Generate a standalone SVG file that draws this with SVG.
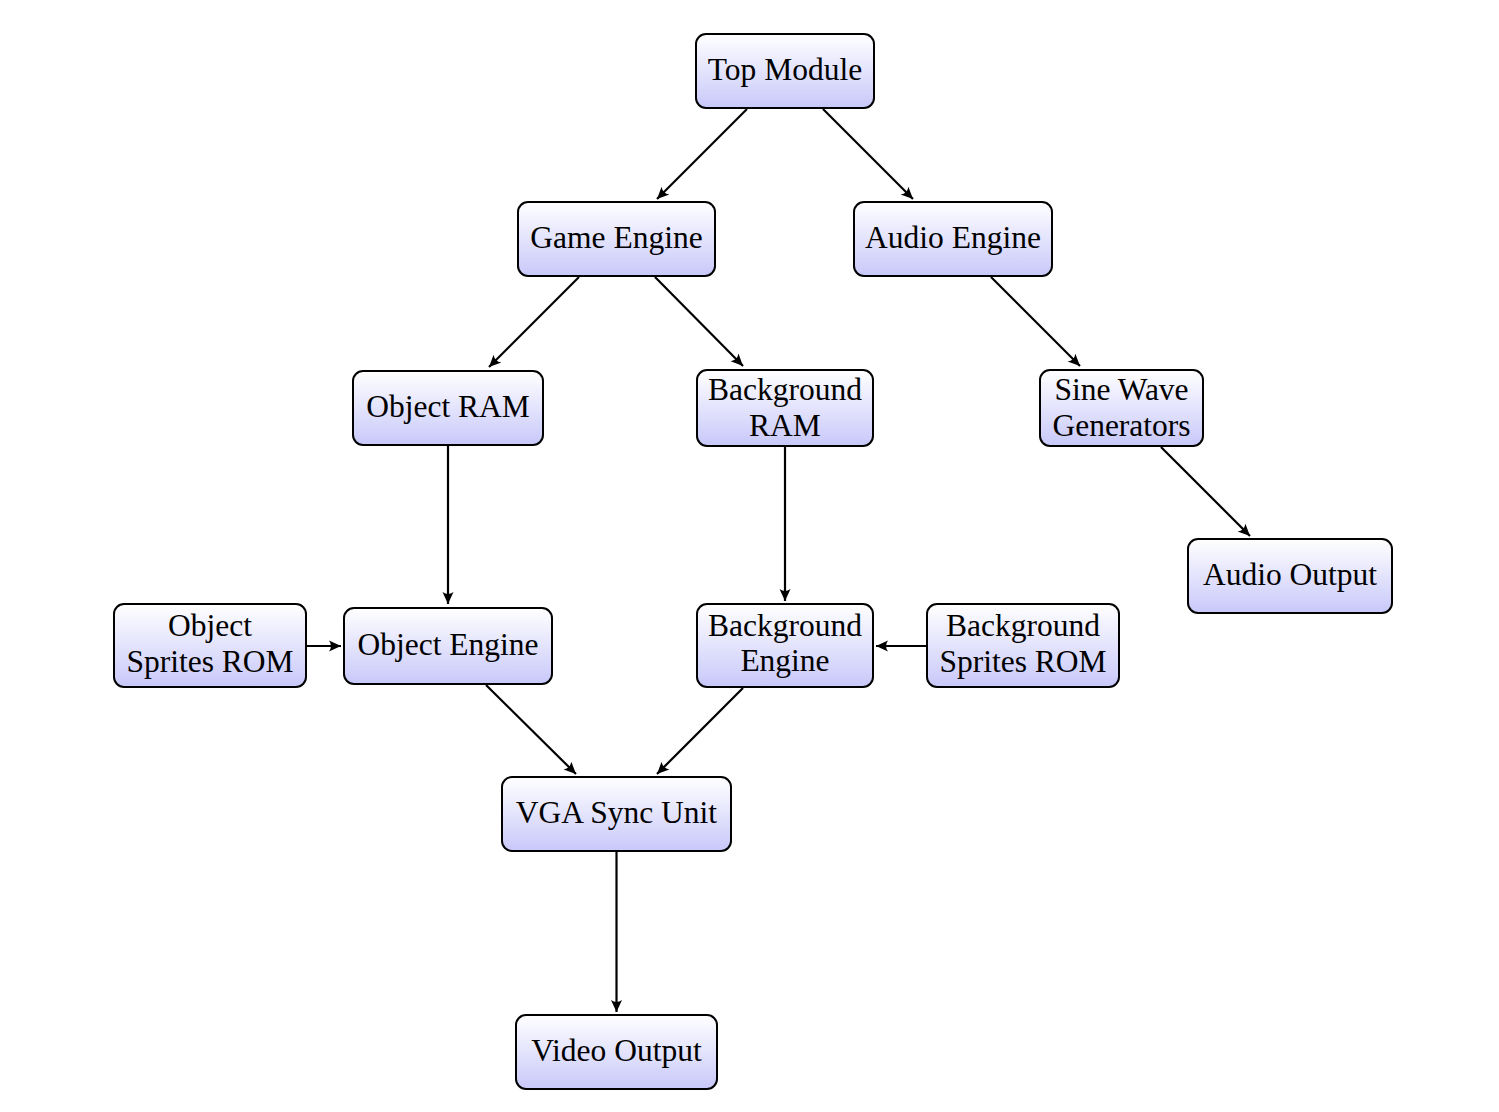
<svg xmlns="http://www.w3.org/2000/svg" width="1499" height="1112" viewBox="0 0 1499 1112">
<defs>
<linearGradient id="g" x1="0" y1="0" x2="0" y2="1">
<stop offset="0" stop-color="#ffffff"/>
<stop offset="1" stop-color="#c8c8fa"/>
</linearGradient>
<marker id="ah" markerUnits="userSpaceOnUse" markerWidth="16" markerHeight="16" viewBox="-13 -8 16 16" refX="0" refY="0" orient="auto">
<path d="M0,0 L-12,-5.5 Q-8,0 -12,5.5 Z" fill="#000"/>
</marker>
</defs>
<style>
.box{fill:url(#g);stroke:#000;stroke-width:2}
.t{font-family:"Liberation Serif","Times New Roman",serif;font-size:31.5px;fill:#000;text-anchor:middle}
.c{stroke:#000;stroke-width:2.2;fill:none;marker-end:url(#ah)}
</style>
<rect width="1499" height="1112" fill="#fff"/>
<g id="connectors">
<line class="c" x1="747" y1="109" x2="657" y2="199"/>
<line class="c" x1="823" y1="109" x2="913" y2="199"/>
<line class="c" x1="579" y1="277" x2="489" y2="367"/>
<line class="c" x1="655" y1="277" x2="743" y2="366"/>
<line class="c" x1="991" y1="277" x2="1080" y2="366"/>
<line class="c" x1="1161" y1="447" x2="1250" y2="536"/>
<line class="c" x1="448" y1="446" x2="448" y2="604"/>
<line class="c" x1="785" y1="447" x2="785" y2="601"/>
<line class="c" x1="306" y1="646" x2="341" y2="646"/>
<line class="c" x1="927" y1="646" x2="876" y2="646"/>
<line class="c" x1="486" y1="685" x2="576" y2="774"/>
<line class="c" x1="743" y1="688" x2="657" y2="774"/>
<line class="c" x1="616.5" y1="852" x2="616.5" y2="1012"/>
</g>
<g id="top-module"><rect class="box" x="696" y="34" width="178" height="74" rx="10"/><text class="t" x="785" y="80">Top Module</text></g>
<g id="game-engine"><rect class="box" x="518" y="202" width="197" height="74" rx="10"/><text class="t" x="616.5" y="248">Game Engine</text></g>
<g id="audio-engine"><rect class="box" x="854" y="202" width="198" height="74" rx="10"/><text class="t" x="953" y="248">Audio Engine</text></g>
<g id="object-ram"><rect class="box" x="353" y="371" width="190" height="74" rx="10"/><text class="t" x="448" y="417">Object RAM</text></g>
<g id="background-ram"><rect class="box" x="697" y="370" width="176" height="76" rx="10"/><text class="t" x="785" y="400">Background</text><text class="t" x="785" y="436">RAM</text></g>
<g id="sine-wave-generators"><rect class="box" x="1040" y="370" width="163" height="76" rx="10"/><text class="t" x="1121.5" y="400">Sine Wave</text><text class="t" x="1121.5" y="436">Generators</text></g>
<g id="audio-output"><rect class="box" x="1188" y="539" width="204" height="74" rx="10"/><text class="t" x="1290" y="585">Audio Output</text></g>
<g id="object-sprites-rom"><rect class="box" x="114" y="604" width="192" height="83" rx="10"/><text class="t" x="210" y="636">Object</text><text class="t" x="210" y="672">Sprites ROM</text></g>
<g id="object-engine"><rect class="box" x="344" y="608" width="208" height="76" rx="10"/><text class="t" x="448" y="655">Object Engine</text></g>
<g id="background-engine"><rect class="box" x="697" y="604" width="176" height="83" rx="10"/><text class="t" x="785" y="636">Background</text><text class="t" x="785" y="671">Engine</text></g>
<g id="background-sprites-rom"><rect class="box" x="927" y="604" width="192" height="83" rx="10"/><text class="t" x="1023" y="636">Background</text><text class="t" x="1023" y="672">Sprites ROM</text></g>
<g id="vga-sync-unit"><rect class="box" x="502" y="777" width="229" height="74" rx="10"/><text class="t" x="616.5" y="823">VGA Sync Unit</text></g>
<g id="video-output"><rect class="box" x="516" y="1015" width="201" height="74" rx="10"/><text class="t" x="616.5" y="1061">Video Output</text></g>
</svg>
